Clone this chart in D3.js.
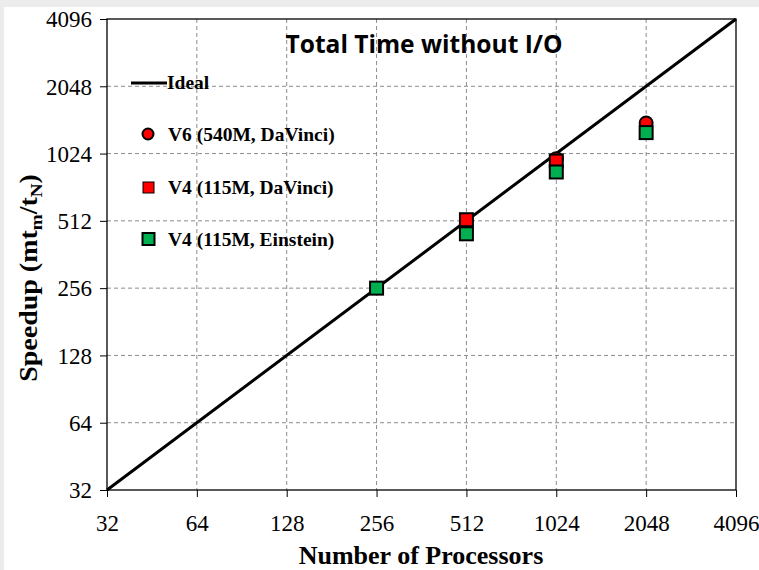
<!DOCTYPE html>
<html>
<head>
<meta charset="utf-8">
<script src="https://cdn.jsdelivr.net/npm/d3@7/dist/d3.min.js"></script>
<style>
  body { margin: 0; background: #fff; }
  svg { display: block; }
</style>
</head>
<body>
<svg id="chart" width="759" height="570"></svg>
<script>
// tick values (both axes are log base 2)
var ticks = [32, 64, 128, 256, 512, 1024, 2048, 4096];

// series (only the visible markers)
var v6DaVinci = [
  { p: 1024, s: 972 },
  { p: 2048, s: 1404 }
];
var v4DaVinci = [
  { p: 512, s: 518 },
  { p: 1024, s: 948 }
];
var v4Einstein = [
  { p: 256, s: 256 },
  { p: 512, s: 448 },
  { p: 1024, s: 847 },
  { p: 2048, s: 1271 }
];
var ideal = [32, 4096];

var legendLabels = ["Ideal", "V6 (540M, DaVinci)", "V4 (115M, DaVinci)", "V4 (115M, Einstein)"];

var margin = { left: 107, right: 23, top: 19, bottom: 80 };
var W = 759, H = 570;
var serif = "'Liberation Serif', 'Times New Roman', serif";

var svg = d3.select("#chart");

// faint gray edge like the screenshot
svg.append("rect").attr("width", W).attr("height", H).attr("fill", "#ececec");
svg.append("rect").attr("x", 4).attr("y", 7).attr("width", W - 4).attr("height", H - 7).attr("fill", "#fff");

var x = d3.scaleLog().base(2).domain([32, 4096]).range([margin.left, W - margin.right]);
var y = d3.scaleLog().base(2).domain([32, 4096]).range([H - margin.bottom, margin.top]);

var g = svg.append("g");

// grid
g.selectAll("line.vgrid")
  .data(ticks.slice(1, -1))
  .enter()
  .append("line")
  .attr("class", "vgrid")
  .attr("x1", function(d) { return x(d); })
  .attr("x2", function(d) { return x(d); })
  .attr("y1", y(4096))
  .attr("y2", y(32))
  .attr("stroke", "#8c8c8c")
  .attr("stroke-width", 1)
  .attr("stroke-dasharray", "4,3");
g.selectAll("line.hgrid")
  .data(ticks.slice(1, -1))
  .enter()
  .append("line")
  .attr("class", "hgrid")
  .attr("y1", function(d) { return y(d); })
  .attr("y2", function(d) { return y(d); })
  .attr("x1", x(32))
  .attr("x2", x(4096))
  .attr("stroke", "#8c8c8c")
  .attr("stroke-width", 1)
  .attr("stroke-dasharray", "4,3");

// frame
g.append("rect")
  .attr("x", x(32))
  .attr("y", y(4096))
  .attr("width", x(4096) - x(32))
  .attr("height", y(32) - y(4096))
  .attr("fill", "none")
  .attr("stroke", "#000")
  .attr("stroke-width", 1.3);

// axes
var xAxis = d3.axisBottom(x).tickValues(ticks).tickFormat(d3.format("d")).tickSizeOuter(0);
var yAxis = d3.axisLeft(y).tickValues(ticks).tickFormat(d3.format("d")).tickSizeOuter(0);

var gx = svg.append("g").attr("transform", "translate(0," + y(32) + ")").call(xAxis);
gx.select(".domain").remove();
gx.selectAll(".tick line").attr("y1", 0).attr("y2", 7).attr("stroke", "#000");
gx.selectAll(".tick text")
  .attr("y", 41)
  .attr("dy", 0)
  .style("font-family", serif)
  .style("font-size", "23px")
  .attr("fill", "#000");

var gy = svg.append("g").attr("transform", "translate(" + x(32) + ",0)").call(yAxis);
gy.select(".domain").remove();
gy.selectAll(".tick line").attr("x2", -7).attr("stroke", "#000");
gy.selectAll(".tick text")
  .attr("x", -15)
  .attr("dy", "0.34em")
  .style("font-family", serif)
  .style("font-size", "23px")
  .attr("fill", "#000");

// ideal line
var line = d3.line()
  .x(function(d) { return x(d); })
  .y(function(d) { return y(d); });
g.append("path")
  .datum(ideal)
  .attr("d", line)
  .attr("fill", "none")
  .attr("stroke", "#000")
  .attr("stroke-width", 3);

// markers
var sq = 13;
g.selectAll("circle.v6")
  .data(v6DaVinci)
  .enter()
  .append("circle")
  .attr("class", "v6")
  .attr("cx", function(d) { return x(d.p); })
  .attr("cy", function(d) { return y(d.s); })
  .attr("r", 6.5)
  .attr("fill", "#ff0000")
  .attr("stroke", "#000")
  .attr("stroke-width", 2);

g.selectAll("rect.v4d")
  .data(v4DaVinci)
  .enter()
  .append("rect")
  .attr("class", "v4d")
  .attr("x", function(d) { return x(d.p) - sq / 2; })
  .attr("y", function(d) { return y(d.s) - sq / 2; })
  .attr("width", sq)
  .attr("height", sq)
  .attr("fill", "#ff0000")
  .attr("stroke", "#000")
  .attr("stroke-width", 2);

g.selectAll("rect.v4e")
  .data(v4Einstein)
  .enter()
  .append("rect")
  .attr("class", "v4e")
  .attr("x", function(d) { return x(d.p) - sq / 2; })
  .attr("y", function(d) { return y(d.s) - sq / 2; })
  .attr("width", sq)
  .attr("height", sq)
  .attr("fill", "#00b050")
  .attr("stroke", "#000")
  .attr("stroke-width", 2);

// legend
var lg = svg.append("g").style("font-family", serif).style("font-weight", "bold").style("font-size", "19.5px");
lg.append("line").attr("x1", 131).attr("x2", 167).attr("y1", 83).attr("y2", 83).attr("stroke", "#000").attr("stroke-width", 3);
lg.append("text").attr("x", 167).attr("y", 89).text(legendLabels[0]);
lg.append("circle").attr("cx", 148).attr("cy", 134).attr("r", 5.5).attr("fill", "#ff0000").attr("stroke", "#000").attr("stroke-width", 2);
lg.append("text").attr("x", 168).attr("y", 141).text(legendLabels[1]);
lg.append("rect").attr("x", 143).attr("y", 182).attr("width", 11).attr("height", 11).attr("fill", "#ff0000").attr("stroke", "#000").attr("stroke-width", 1);
lg.append("text").attr("x", 168).attr("y", 194).text(legendLabels[2]);
lg.append("rect").attr("x", 142.5).attr("y", 233).attr("width", 12).attr("height", 12).attr("fill", "#00b050").attr("stroke", "#000").attr("stroke-width", 2);
lg.append("text").attr("x", 168).attr("y", 246).text(legendLabels[3]);

// title
svg.append("text")
  .attr("x", 424)
  .attr("y", 53)
  .attr("text-anchor", "middle")
  .style("font-family", "'Open Sans', sans-serif")
  .style("font-weight", "bold")
  .style("font-size", "25px")
  .attr("textLength", 277)
  .attr("lengthAdjust", "spacingAndGlyphs")
  .text("Total Time without I/O");

// axis titles
svg.append("text")
  .attr("x", 421)
  .attr("y", 564)
  .attr("text-anchor", "middle")
  .style("font-family", serif)
  .style("font-weight", "bold")
  .style("font-size", "26px")
  .text("Number of Processors");

var yt = svg.append("text")
  .attr("transform", "translate(37,278) rotate(-90) scale(1.12,1)")
  .attr("text-anchor", "middle")
  .style("font-family", serif)
  .style("font-weight", "bold")
  .style("font-size", "25px");
yt.append("tspan").text("Speedup (mt");
yt.append("tspan").attr("dy", 5).style("font-size", "17px").text("m");
yt.append("tspan").attr("dy", -5).text("/t");
yt.append("tspan").attr("dy", 5).style("font-size", "17px").text("N");
yt.append("tspan").attr("dy", -5).text(")");
</script>
</body>
</html>
